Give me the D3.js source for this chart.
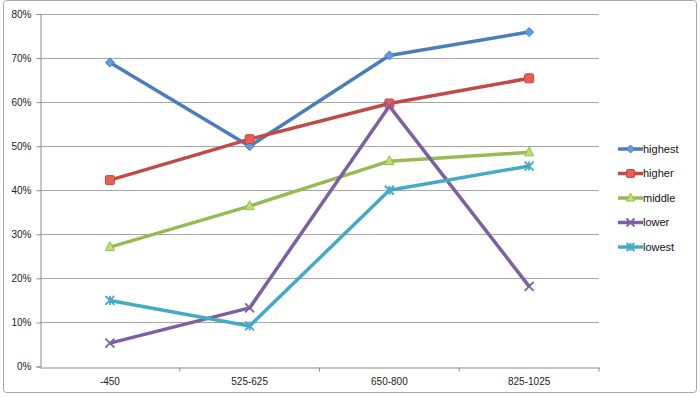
<!DOCTYPE html>
<html>
<head>
<meta charset="utf-8">
<script src="https://cdn.jsdelivr.net/npm/d3@7"></script>
<style>
  body { margin: 0; background: #fff; }
  svg { display: block; font-family: "Liberation Sans", Arial, sans-serif; }
</style>
</head>
<body>
<svg width="700" height="397"></svg>
<script>
const categories = ['-450', '525-625', '650-800', '825-1025'];
const seriesNames = ['highest', 'higher', 'middle', 'lower', 'lowest'];
const highest = [69.0, 50.0, 70.6, 75.9];
const higher = [42.3, 51.6, 59.7, 65.4];
const middle = [27.1, 36.4, 46.6, 48.6];
const lower = [5.3, 13.3, 59.1, 18.2];
const lowest = [15.0, 9.2, 40.0, 45.5];
const yTicks = [0, 10, 20, 30, 40, 50, 60, 70, 80];

const colors = ['#4a7ebb', '#be4b48', '#98b954', '#7d60a0', '#46aac5'];
const shapes = ['diamond', 'square', 'triangle', 'x', 'star'];
const series = [highest, higher, middle, lower, lowest];

const plotLeft = 40;
const plotRight = 599;
const plotTop = 14;
const plotBottom = 366.5;

const canvas = d3.select('svg');

// outer frame
canvas.append('rect')
      .attr('x', 3.5).attr('y', 0.5)
      .attr('width', 693).attr('height', 392)
      .attr('rx', 3)
      .attr('fill', 'none')
      .attr('stroke', '#a8a8a8');

const xScale = d3.scaleBand()
                 .domain(categories)
                 .range([plotLeft, plotRight]);

const yScale = d3.scaleLinear()
                 .domain([0, 80])
                 .range([plotBottom, plotTop]);

// gridlines
canvas.append('g')
      .selectAll('line')
      .data(yTicks.slice(1))
      .enter()
      .append('line')
      .attr('x1', plotLeft).attr('x2', plotRight)
      .attr('y1', d => Math.round(yScale(d)) + 0.5)
      .attr('y2', d => Math.round(yScale(d)) + 0.5)
      .attr('stroke', '#a6a6a6');

const yAxis = d3.axisLeft(yScale)
                .tickValues(yTicks)
                .tickSize(4)
                .tickFormat(d => d + '%');

const gy = canvas.append('g')
      .attr('transform', `translate(${plotLeft + 0.5}, 0)`)
      .call(yAxis);
gy.selectAll('line').attr('stroke', '#8c8c8c');
gy.select('.domain').attr('stroke', '#8c8c8c');
gy.selectAll('text')
  .attr('x', -9)
  .attr('fill', '#222')
  .style('font-size', '10px');

const xAxis = d3.axisBottom(xScale)
                .tickSize(0);

const gx = canvas.append('g')
      .attr('transform', `translate(0, ${Math.round(plotBottom) + 0.5})`)
      .call(xAxis);
gx.select('.domain').attr('stroke', '#8c8c8c');
gx.selectAll('text')
  .attr('y', 10)
  .attr('fill', '#222')
  .style('font-size', '10px');

// category separators
gx.selectAll('.sep')
  .data(categories.slice(1).concat(['end']))
  .enter()
  .append('line')
  .attr('x1', (d, i) => i < 3 ? xScale(d) : plotRight)
  .attr('x2', (d, i) => i < 3 ? xScale(d) : plotRight)
  .attr('y1', 0).attr('y2', 4)
  .attr('stroke', '#8c8c8c');

const cx = c => xScale(c) + xScale.bandwidth() / 2;

const line = d3.line()
               .x((d, i) => cx(categories[i]))
               .y(d => yScale(d));

const drawMarker = (g, shape, color, x, y, s) => {
  const light = d3.color(color).brighter(0.6);
  if (shape === 'diamond') {
    g.append('path')
     .attr('d', `M${x},${y - s}L${x + s},${y}L${x},${y + s}L${x - s},${y}Z`)
     .attr('fill', light).attr('stroke', color).attr('stroke-width', 1);
  } else if (shape === 'square') {
    g.append('rect')
     .attr('x', x - s).attr('y', y - s)
     .attr('width', 2 * s).attr('height', 2 * s)
     .attr('rx', 1.5)
     .attr('fill', light).attr('stroke', color).attr('stroke-width', 1);
  } else if (shape === 'triangle') {
    g.append('path')
     .attr('d', `M${x},${y - s - 1}L${x + s},${y + s - 1}L${x - s},${y + s - 1}Z`)
     .attr('fill', light).attr('stroke', color).attr('stroke-width', 1);
  } else if (shape === 'x') {
    g.append('path')
     .attr('d', `M${x - s},${y - s}L${x + s},${y + s}M${x + s},${y - s}L${x - s},${y + s}`)
     .attr('stroke', color).attr('stroke-width', 1.8);
  } else {
    g.append('path')
     .attr('d', `M${x - s},${y - s}L${x + s},${y + s}M${x + s},${y - s}L${x - s},${y + s}M${x},${y - s}L${x},${y + s}`)
     .attr('stroke', color).attr('stroke-width', 1.8);
  }
};

series.forEach((vals, k) => {
  canvas.append('path')
        .datum(vals)
        .attr('d', line)
        .attr('fill', 'none')
        .attr('stroke', colors[k])
        .attr('stroke-width', 3.5)
        .attr('stroke-linejoin', 'round');
});

series.forEach((vals, k) => {
  const g = canvas.append('g');
  vals.forEach((v, i) => drawMarker(g, shapes[k], colors[k], cx(categories[i]), yScale(v), 4.5));
});

// legend
const legendY = d3.scalePoint()
                  .domain(seriesNames)
                  .range([149, 247]);

const legend = canvas.append('g');
seriesNames.forEach((name, k) => {
  const y = legendY(name);
  legend.append('line')
        .attr('x1', 618).attr('x2', 643)
        .attr('y1', y).attr('y2', y)
        .attr('stroke', colors[k])
        .attr('stroke-width', 3.5);
  drawMarker(legend, shapes[k], colors[k], 630.5, y, 4);
  legend.append('text')
        .attr('x', 643)
        .attr('y', y)
        .attr('dy', '0.35em')
        .attr('fill', '#111')
        .style('font-size', '11px')
        .text(name);
});
</script>
</body>
</html>
